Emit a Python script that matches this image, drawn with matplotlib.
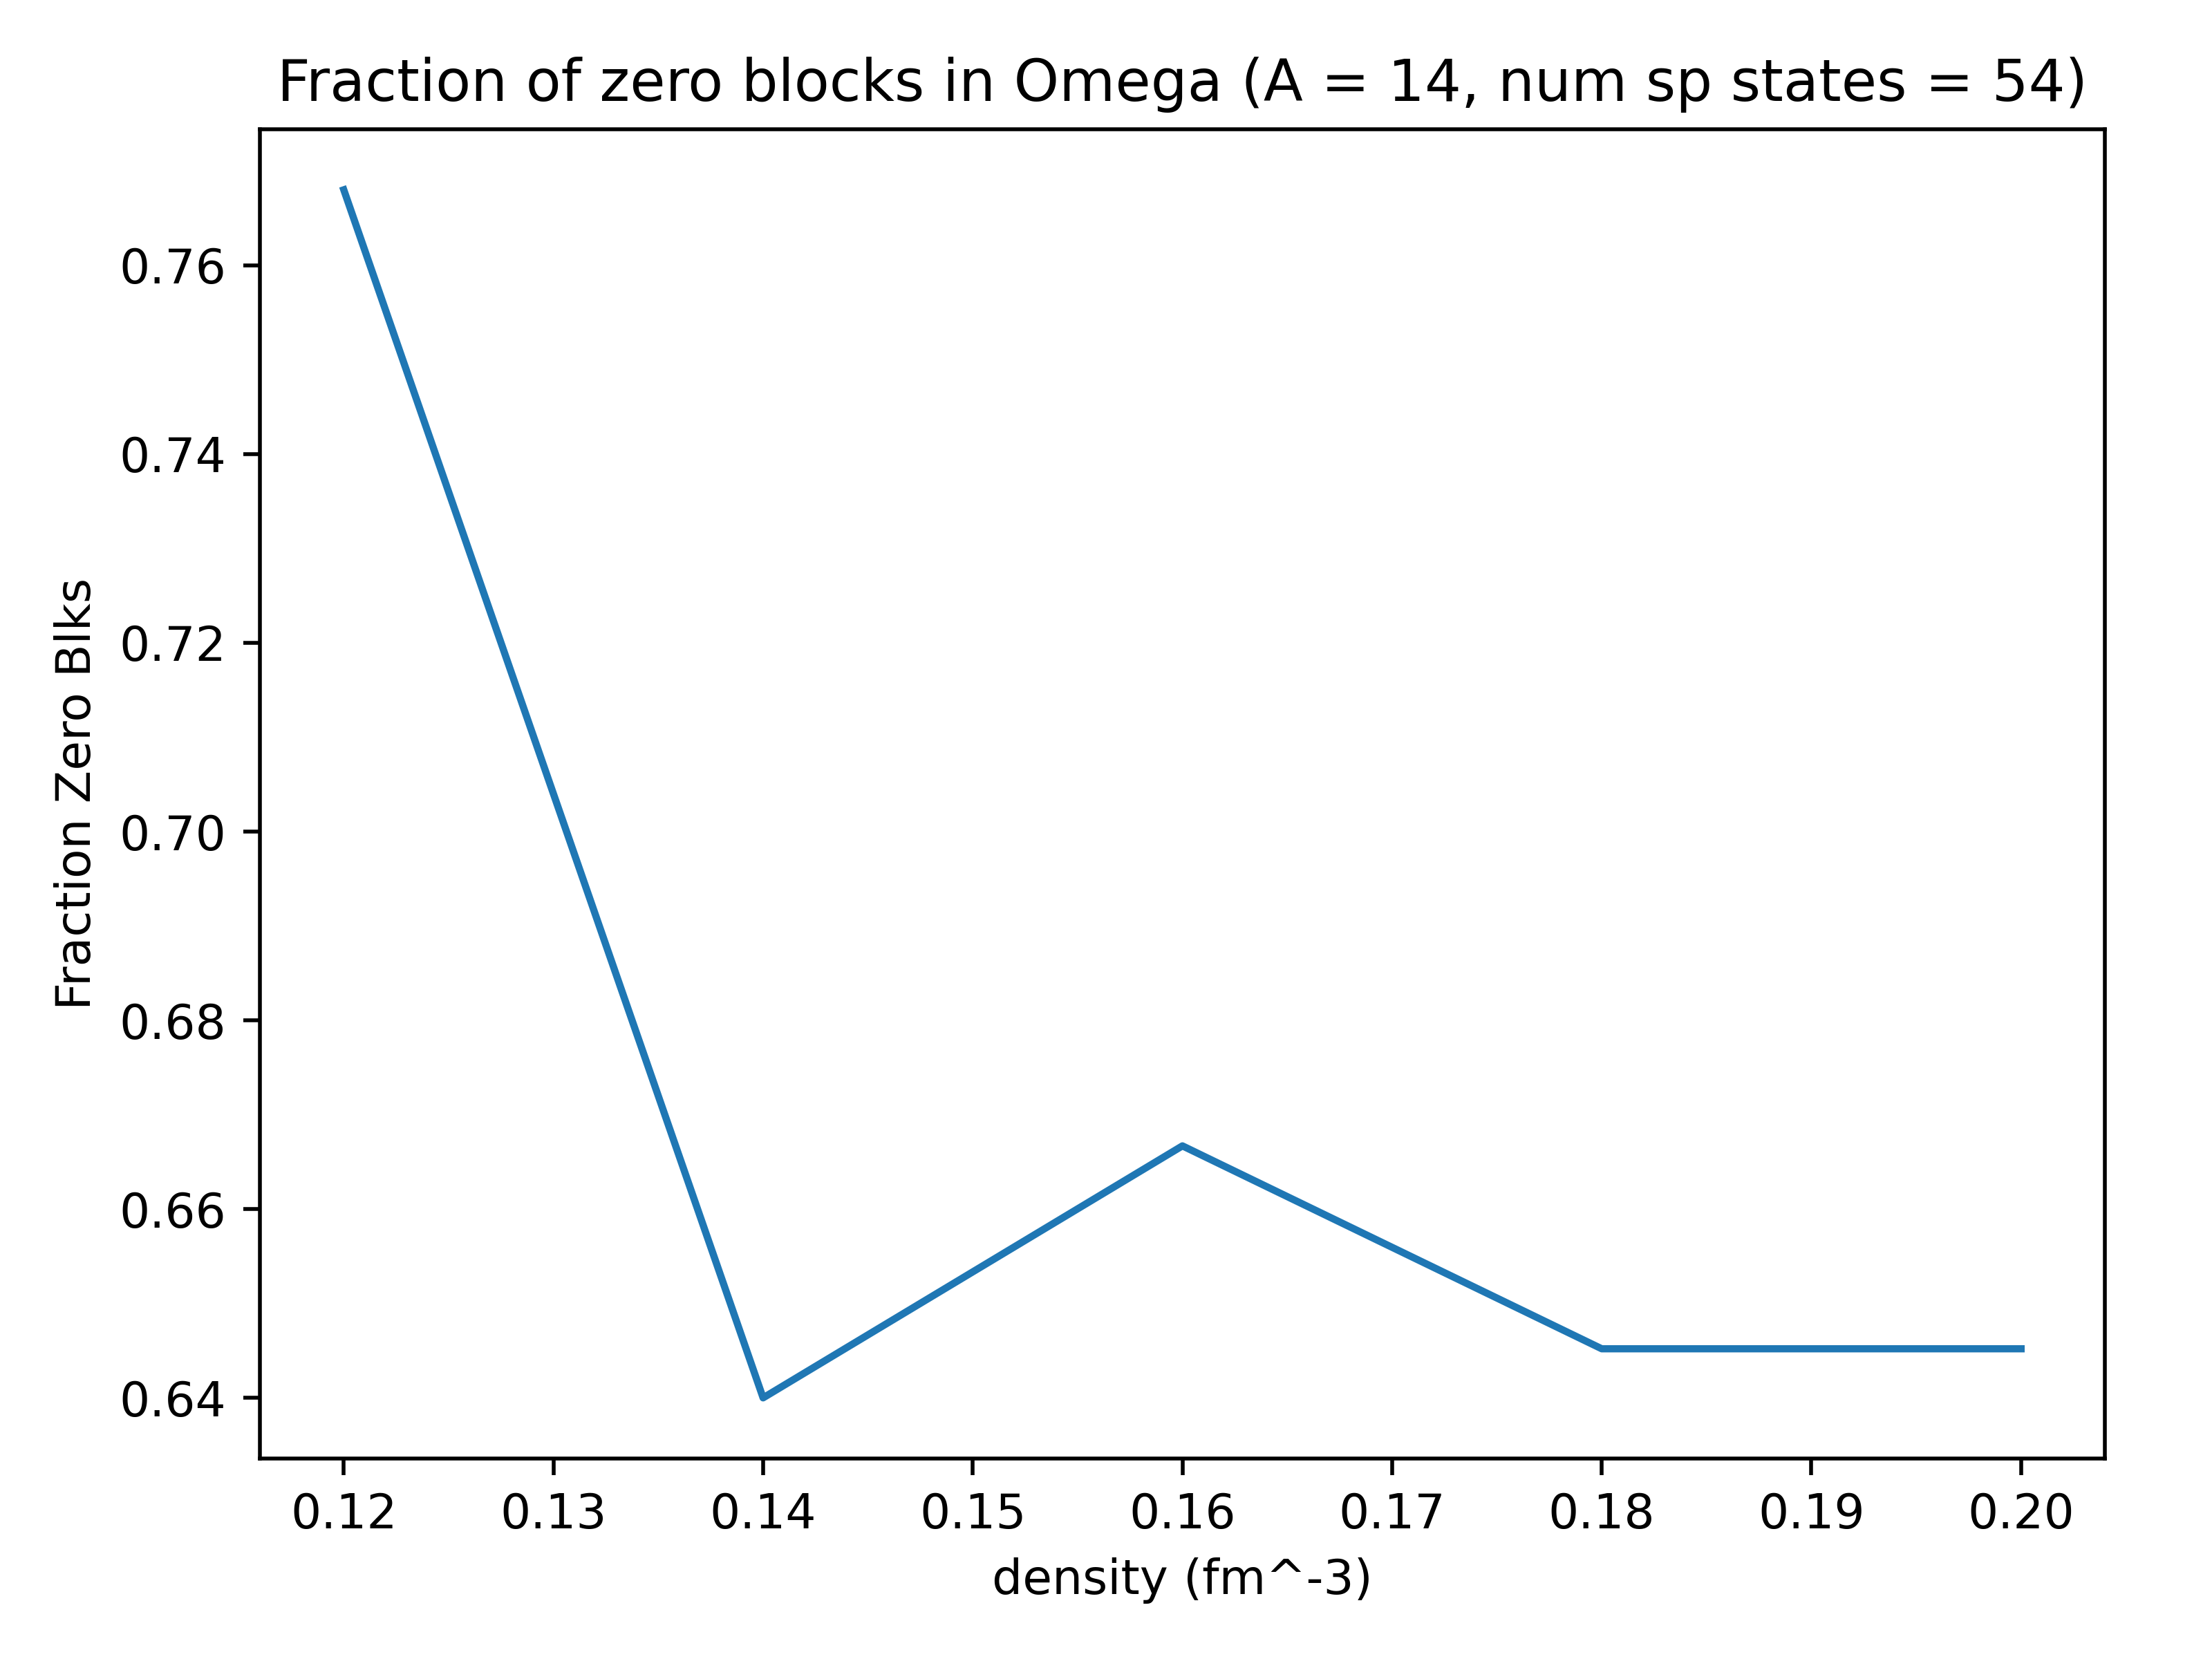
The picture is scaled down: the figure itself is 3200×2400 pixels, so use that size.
import matplotlib
matplotlib.use('Agg')
import matplotlib.pyplot as plt

density = [0.12, 0.14, 0.16, 0.18, 0.20]
frac_zero = [0.768, 0.640, 0.6667, 0.6452, 0.6452]

fig, ax = plt.subplots(figsize=(6.4, 4.8))
ax.plot(density, frac_zero)
ax.set_xlabel('density (fm^-3)')
ax.set_ylabel('Fraction Zero Blks')
ax.set_title('Fraction of zero blocks in Omega (A = 14, num sp states = 54)')

fig.subplots_adjust(left=0.1175, right=0.9516, top=0.922, bottom=0.121)
fig.savefig('out.png', dpi=500)
